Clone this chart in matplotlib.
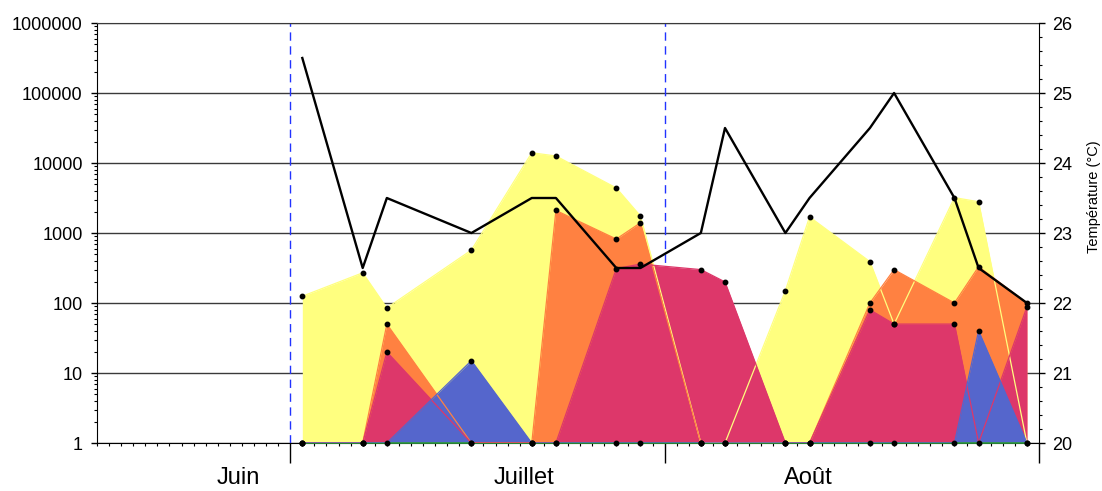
import matplotlib
matplotlib.use("Agg")
import matplotlib.pyplot as plt
import matplotlib.dates as mdates
import pandas as pd
from matplotlib.ticker import FixedLocator, FixedFormatter, LogLocator, NullFormatter, MultipleLocator

plt.rcParams['font.family'] = ['Liberation Sans', 'DejaVu Sans']

# Sampling dates
dates = ['2003-07-02', '2003-07-07', '2003-07-09', '2003-07-16', '2003-07-21',
         '2003-07-23', '2003-07-28', '2003-07-30', '2003-08-04', '2003-08-06',
         '2003-08-11', '2003-08-13', '2003-08-18', '2003-08-20', '2003-08-25',
         '2003-08-27', '2003-08-31']

# Abundances (log scale, 1 = none detected)
yellow = [125, 270, 85, 570, 14000, 12600, 4400, 1750, 1, 1, 150, 1700, 390, 50, 3200, 2800, 1]
orange = [1, 1, 50, 1, 1, 2100, 820, 1400, 1, 1, 1, 1, 100, 300, 100, 330, 100]
crimson = [1, 1, 20, 1, 1, 1, 310, 360, 300, 200, 1, 1, 80, 50, 50, 1, 88]
blue = [1, 1, 1, 15, 1, 1, 1, 1, 1, 1, 1, 1, 1, 1, 1, 40, 1]
green = [1, 1, 1, 1, 1, 1, 1, 1, 1, 1, 1, 1, 1, 1, 1, 1, 1]

# Water temperature (°C)
temperature = [25.5, 22.5, 23.5, 23.0, 23.5, 23.5, 22.5, 22.5, 23.0, 24.5,
               23.0, 23.5, 24.5, 25.0, 23.5, 22.5, 22.0]

y_ticks = [1, 10, 100, 1000, 10000, 100000, 1000000]
y_labels = ['1', '10', '100', '1000', '10000', '100000', '1000000']
t_ticks = [20, 21, 22, 23, 24, 25, 26]
months = ['Juin', 'Juillet', 'Août']
month_pos = [0.1497, 0.4533, 0.7548]
month_starts = ['2003-07-01', '2003-08-01']
x_range = ['2003-06-15', '2003-09-01']

x = mdates.date2num(pd.to_datetime(dates))

fig = plt.figure(figsize=(11.02, 4.91), dpi=100)
ax = fig.add_axes([97 / 1102, 48 / 491, 942 / 1102, 420 / 491])

ax.set_yscale('log')
ax.set_ylim(1, 1e6)
ax.set_xlim(mdates.date2num(pd.to_datetime(x_range)))

ax.set_axisbelow(True)
ax.yaxis.grid(True, which='major', color='#3a3a3a', lw=1)

series = [(yellow, '#FFFF7F'), (orange, '#FF8141'), (crimson, '#DD376A'), (blue, '#5566CC')]
for vals, col in series:
    ax.fill_between(x, 1, vals, color=col, lw=0, zorder=1)

for d in month_starts:
    ax.axvline(mdates.date2num(pd.Timestamp(d)), color='#2233FF', lw=1,
               ls=(0, (6, 4)), zorder=0.8)

for vals, col in series:
    ax.plot(x, vals, color=col, lw=0.9, zorder=3)
ax.plot(x, green, color='#2E9B3E', lw=1.2, zorder=2.6, clip_on=False)

for vals, _ in series:
    ax.plot(x, vals, ls='none', marker='o', ms=3.2, color='black', zorder=4, clip_on=False)

# y axis (log)
ax.yaxis.set_major_locator(FixedLocator(y_ticks))
ax.yaxis.set_major_formatter(FixedFormatter(y_labels))
ax.yaxis.set_minor_locator(LogLocator(base=10, subs=range(2, 10)))
ax.yaxis.set_minor_formatter(NullFormatter())
ax.tick_params(axis='y', which='major', length=4.3, width=1, labelsize=13, pad=6, direction='out')
ax.tick_params(axis='y', which='minor', length=2.2, width=0.8, direction='out')

# x axis (dates)
ax.xaxis.set_major_locator(mdates.MonthLocator())
ax.xaxis.set_minor_locator(mdates.DayLocator())
ax.tick_params(axis='x', which='major', length=14.4, width=1, labelbottom=False, direction='out')
ax.tick_params(axis='x', which='minor', length=2.2, width=0.8, direction='out')

for lbl, pos in zip(months, month_pos):
    ax.text(pos, -0.083, lbl, transform=ax.transAxes, ha='center', va='center', fontsize=17)

for side in ['left', 'bottom']:
    ax.spines[side].set_color('black')
ax.spines['top'].set_color('#3a3a3a')
ax.spines['right'].set_visible(False)

# temperature axis
ax2 = ax.twinx()
ax2.set_ylim(20, 26)
ax2.plot(x, temperature, color='black', lw=1.7, zorder=5)
ax2.yaxis.set_major_locator(FixedLocator(t_ticks))
ax2.yaxis.set_minor_locator(MultipleLocator(0.2))
ax2.tick_params(axis='y', which='major', length=4.3, width=1, labelsize=13, pad=5.5)
ax2.tick_params(axis='y', which='minor', length=2.2, width=0.8)
ax2.set_ylabel('Température (°C)', fontsize=10.5)
ax2.yaxis.set_label_coords(1.051, 0.586)
for side in ['left', 'top', 'bottom']:
    ax2.spines[side].set_visible(False)
ax2.spines['right'].set_color('black')

fig.savefig('out.png', dpi=100)
